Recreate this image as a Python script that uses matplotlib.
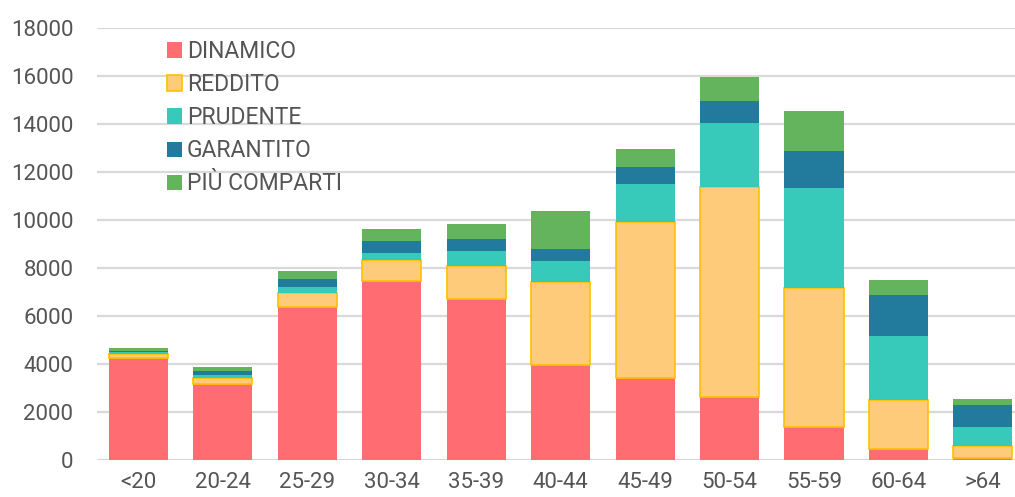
import matplotlib
matplotlib.use("Agg")
import matplotlib.pyplot as plt
import numpy as np

categories = ["<20", "20-24", "25-29", "30-34", "35-39", "40-44",
              "45-49", "50-54", "55-59", "60-64", ">64"]

dinamico = [4240, 3170, 6390, 7470, 6710, 3960, 3400, 2640, 1390, 460, 100]
reddito = [180, 250, 550, 860, 1370, 3470, 6530, 8720, 5760, 2040, 500]
prudente = [60, 110, 250, 310, 610, 860, 1550, 2700, 4170, 2680, 790]
garantito = [80, 190, 360, 470, 500, 500, 710, 910, 1560, 1690, 900]
piu_comparti = [120, 140, 320, 500, 630, 1580, 750, 970, 1670, 650, 240]

series_names = ["DINAMICO", "REDDITO", "PRUDENTE", "GARANTITO", "PIÙ COMPARTI"]
series_values = [dinamico, reddito, prudente, garantito, piu_comparti]
colors = ["#FF6D73", "#FECB7A", "#37C9BA", "#227B9C", "#64B45E"]
edges = [None, "#FFC000", None, None, None]

y_ticks = list(range(0, 18001, 2000))

plt.rcParams["font.family"] = ["Roboto", "DejaVu Sans"]

W, H = 1015, 497
fig = plt.figure(figsize=(W / 100, H / 100), dpi=100)
ax = fig.add_axes([97 / W, 1 - 460 / H, (W - 97) / W, (460 - 28) / H])

x = np.arange(len(categories))
bottom = np.zeros(len(categories))
for name, vals, col, ec in zip(series_names, series_values, colors, edges):
    vals = np.array(vals, dtype=float)
    kw = dict(edgecolor=ec, linewidth=1.2) if ec else dict(linewidth=0)
    ax.bar(x, vals, width=0.70, bottom=bottom, color=col, label=name,
           zorder=3, **kw)
    bottom += vals

ax.set_xlim(-0.49, 10.38)
ax.set_ylim(0, 18000)
ax.set_yticks(y_ticks)
ax.set_yticklabels([str(v) for v in y_ticks])
ax.set_xticks(x)
ax.set_xticklabels(categories)

ax.grid(axis="y", color="#D9D9D9", linewidth=1.6, zorder=0)
ax.set_axisbelow(True)
for s in ax.spines.values():
    s.set_visible(False)
ax.tick_params(axis="both", length=0, labelsize=16, colors="#555555")
ax.tick_params(axis="y", pad=17)
ax.tick_params(axis="x", pad=9)

leg = ax.legend(loc="upper left", bbox_to_anchor=(167 / W, 1 - 40 / H),
                bbox_transform=fig.transFigure, frameon=False, fontsize=16.5,
                handlelength=0.65, handleheight=0.65, handletextpad=0.22,
                labelspacing=0.44, borderaxespad=0, borderpad=0)
for t in leg.get_texts():
    t.set_color("#555555")

fig.savefig("out.png", dpi=100, facecolor="white")
